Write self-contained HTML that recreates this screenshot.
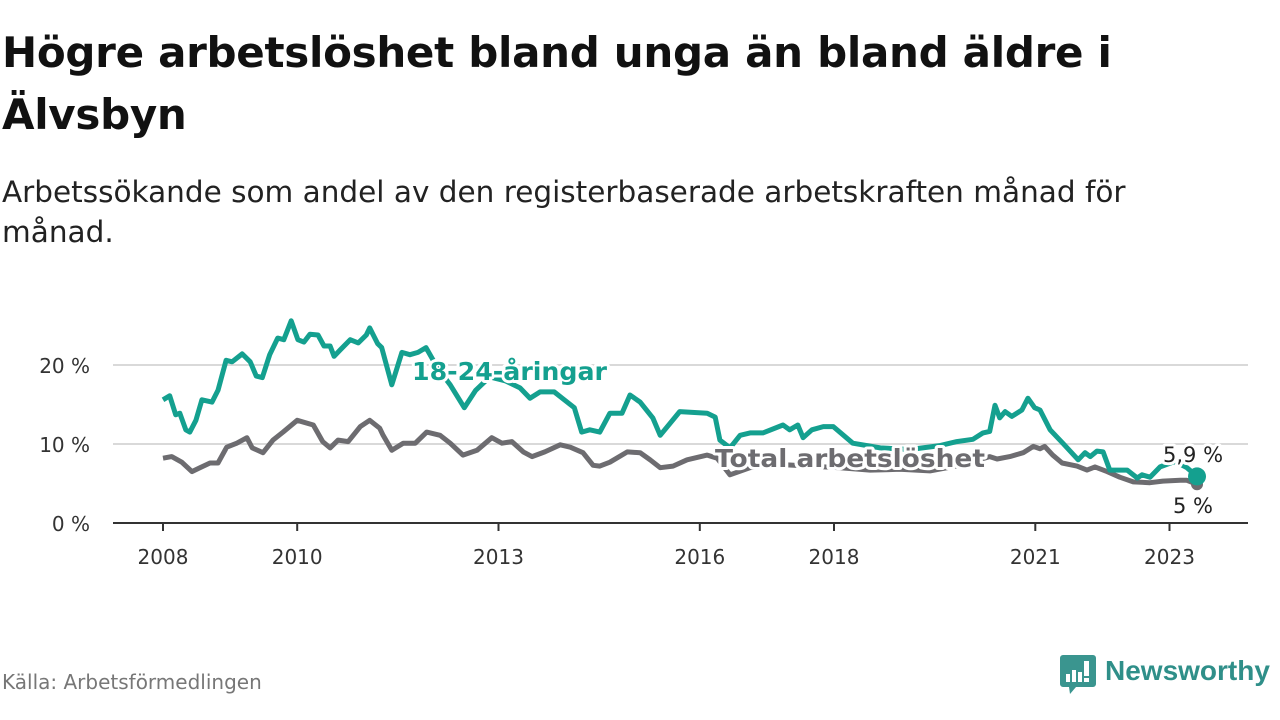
<!DOCTYPE html>
<html><head><meta charset="utf-8">
<style>
body{margin:0;width:1280px;height:720px;background:#fff;font-family:"DejaVu Sans","Liberation Sans",sans-serif;overflow:hidden;position:relative}
h1{position:absolute;left:2px;top:22px;margin:0;font-size:42px;line-height:62px;font-weight:bold;color:#111;width:1200px;letter-spacing:-0.3px}
.sub{position:absolute;left:2px;top:172px;font-size:29.5px;line-height:40px;color:#222;width:1200px}
.src{position:absolute;left:2px;top:670px;font-size:20px;color:#777}
.logo{position:absolute;left:1060px;top:655px}
.logotxt{position:absolute;left:1105px;top:655px;font-size:28px;color:#2f8f89;font-weight:bold;font-family:"Liberation Sans",sans-serif}
svg{position:absolute;left:0;top:0}
</style></head><body>
<h1>Högre arbetslöshet bland unga än bland äldre i Älvsbyn</h1>
<div class="sub">Arbetssökande som andel av den registerbaserade arbetskraften månad för månad.</div>
<div class="src">Källa: Arbetsförmedlingen</div>
<svg class="logo" width="36" height="40" viewBox="0 0 36 40">
<path d="M3 0h30a3 3 0 0 1 3 3v26a3 3 0 0 1-3 3H16l-6 7-1-7H3a3 3 0 0 1-3-3V3a3 3 0 0 1 3-3z" fill="#3a958f"/>
<rect x="6" y="19" width="4" height="8" fill="#fff"/><rect x="12" y="15" width="4" height="12" fill="#fff"/><rect x="18" y="17" width="4" height="10" fill="#fff"/><rect x="24" y="6" width="5" height="15" fill="#fff"/><rect x="24" y="23" width="5" height="4" fill="#fff"/>
</svg>
<div class="logotxt">Newsworthy</div>
<svg id="chart" width="1280" height="720"></svg>
<script>
const youthDates=[2008.00,2008.10,2008.19,2008.25,2008.34,2008.40,2008.49,2008.58,2008.73,2008.82,2008.94,2009.03,2009.18,2009.30,2009.39,2009.48,2009.59,2009.71,2009.80,2009.91,2010.01,2010.10,2010.19,2010.31,2010.40,2010.49,2010.55,2010.64,2010.79,2010.91,2011.03,2011.08,2011.20,2011.26,2011.41,2011.56,2011.68,2011.80,2011.92,2012.10,2012.28,2012.49,2012.66,2012.87,2013.10,2013.32,2013.47,2013.62,2013.83,2013.95,2014.13,2014.24,2014.36,2014.51,2014.66,2014.84,2014.96,2015.11,2015.30,2015.41,2015.70,2016.11,2016.23,2016.30,2016.45,2016.60,2016.75,2016.94,2017.24,2017.34,2017.46,2017.54,2017.67,2017.84,2017.99,2018.28,2018.69,2019.13,2019.58,2019.83,2020.07,2020.22,2020.32,2020.40,2020.47,2020.55,2020.65,2020.80,2020.89,2020.99,2021.07,2021.22,2021.41,2021.64,2021.74,2021.82,2021.92,2022.01,2022.11,2022.37,2022.52,2022.59,2022.71,2022.86,2023.08,2023.26,2023.41];
const youthValues=[15.6,16.1,13.7,13.9,11.8,11.5,13.0,15.6,15.3,16.8,20.6,20.4,21.4,20.4,18.6,18.4,21.3,23.4,23.2,25.6,23.2,22.9,23.9,23.8,22.4,22.4,21.1,21.9,23.2,22.8,23.8,24.7,22.7,22.2,17.5,21.6,21.3,21.6,22.2,19.5,17.5,14.6,16.8,18.5,18.0,17.1,15.8,16.6,16.6,15.8,14.6,11.5,11.8,11.5,13.9,13.9,16.2,15.3,13.3,11.1,14.1,13.9,13.4,10.5,9.5,11.1,11.4,11.4,12.4,11.8,12.4,10.8,11.8,12.2,12.2,10.1,9.5,9.3,9.8,10.3,10.6,11.4,11.6,14.9,13.3,14.1,13.5,14.3,15.8,14.6,14.3,11.8,10.1,8.0,8.9,8.4,9.1,9.0,6.7,6.7,5.7,6.1,5.8,7.1,7.8,7.0,5.9];
const totalDates=[2008.00,2008.13,2008.28,2008.43,2008.55,2008.70,2008.82,2008.95,2009.10,2009.25,2009.33,2009.49,2009.64,2009.79,2010.00,2010.24,2010.38,2010.49,2010.61,2010.76,2010.94,2011.08,2011.23,2011.28,2011.41,2011.58,2011.76,2011.93,2012.13,2012.28,2012.47,2012.68,2012.90,2013.05,2013.20,2013.37,2013.50,2013.69,2013.92,2014.07,2014.26,2014.41,2014.51,2014.66,2014.92,2015.11,2015.26,2015.41,2015.60,2015.81,2016.11,2016.26,2016.45,2016.75,2017.20,2017.64,2018.09,2018.54,2018.98,2019.43,2019.88,2020.32,2020.43,2020.62,2020.82,2020.97,2021.07,2021.14,2021.26,2021.40,2021.62,2021.77,2021.89,2022.07,2022.26,2022.46,2022.71,2022.90,2023.16,2023.26,2023.41];
const totalValues=[8.2,8.4,7.7,6.5,7.0,7.6,7.6,9.6,10.1,10.8,9.5,8.9,10.5,11.5,13.0,12.4,10.3,9.5,10.5,10.3,12.2,13.0,12.0,11.1,9.2,10.1,10.1,11.5,11.1,10.1,8.6,9.2,10.8,10.1,10.3,9.0,8.4,9.0,9.9,9.6,8.9,7.3,7.2,7.7,9.0,8.9,8.0,7.0,7.2,8.0,8.6,8.2,6.1,7.0,7.4,7.2,7.0,6.7,6.8,6.6,7.3,8.4,8.1,8.4,8.9,9.7,9.4,9.7,8.6,7.6,7.2,6.7,7.1,6.5,5.8,5.2,5.1,5.3,5.4,5.4,4.9];
const xTicks=[2008,2010,2013,2016,2018,2021,2023];
const yTicks=[0,10,20];
const yTickLabels=["0 %","10 %","20 %"];
const endLabels=["5,9 %","5 %"];

const NS="http://www.w3.org/2000/svg";
const svg=document.getElementById('chart');
const x=y=>163+(y-2008)*67.1;
const yS=v=>523-v*7.9;
function mk(t,a,p){const e=document.createElementNS(NS,t);for(const k in a)e.setAttribute(k,a[k]);(p||svg).appendChild(e);return e;}

yTicks.forEach((v,i)=>{
  if(v>0){const g=mk('line',{x1:113,x2:1248,y1:yS(v),y2:yS(v),stroke:'#d9d9d9','stroke-width':2});
  
  }
  const t=mk('text',{x:90,y:yS(v)+8,'text-anchor':'end','font-size':20,fill:'#333'});
  t.textContent=yTickLabels[i];
  
  
});
const ax=mk('line',{x1:113,x2:1248,y1:523,y2:523,stroke:'#333','stroke-width':2});


xTicks.forEach(yr=>{
  const tk=mk('line',{x1:x(yr),x2:x(yr),y1:523,y2:531,stroke:'#333','stroke-width':2});
  
  
  const t=mk('text',{x:x(yr),y:564,'text-anchor':'middle','font-size':20,fill:'#333'});
  t.textContent=yr;
  
  
});
function path(d,v){return d.map((a,i)=>(i?'L':'M')+x(a).toFixed(1)+','+yS(v[i]).toFixed(1)).join('');}
const tl=mk('path',{d:path(totalDates,totalValues),fill:'none',stroke:'#6d6c70','stroke-width':5,'stroke-linejoin':'round'});


const yl=mk('path',{d:path(youthDates,youthValues),fill:'none',stroke:'#14a08f','stroke-width':5,'stroke-linejoin':'round'});


const lt=totalDates.length-1, ly=youthDates.length-1;
const td=mk('circle',{cx:x(totalDates[lt]),cy:yS(totalValues[lt]),r:6,fill:'#6d6c70'});


const yd=mk('circle',{cx:x(youthDates[ly]),cy:yS(youthValues[ly]),r:9,fill:'#14a08f'});


function lab(txt,xx,yy,fs,col,bold,name,len){
  const a={x:xx,y:yy,'font-size':fs,fill:col,'font-weight':bold?'bold':'normal',stroke:'#fff','stroke-width':6,'paint-order':'stroke','stroke-linejoin':'round'};
  if(len){a.textLength=len;a.lengthAdjust='spacingAndGlyphs';}
  const t=mk('text',a);
  t.textContent=txt;
  
  
}
lab('18-24-åringar',412,380,25,'#14a08f',true,'youth-series-label',195);
lab('Total arbetslöshet',715,467,25,'#6d6c70',true,'total-series-label',270);
lab(endLabels[0],1163,462,21,'#222',false,'youth-end-value');
lab(endLabels[1],1173,513,21,'#222',false,'total-end-value');
</script>
</body></html>
